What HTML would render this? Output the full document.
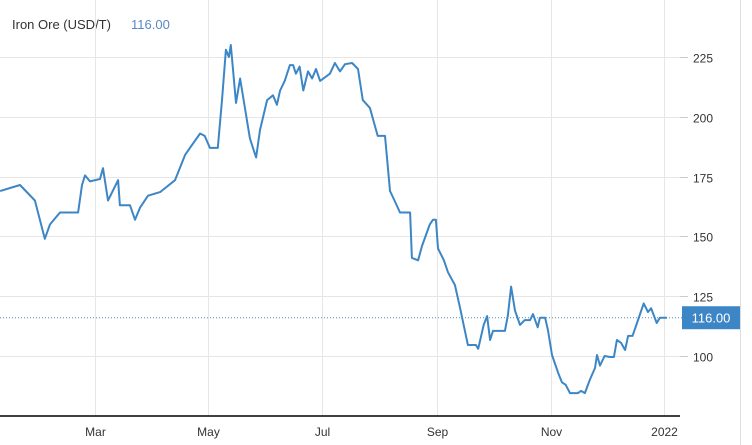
<!DOCTYPE html>
<html><head><meta charset="utf-8"><style>
body{margin:0;background:#fff;font-family:"Liberation Sans",sans-serif}
svg{display:block}
</style></head><body>
<svg id="chart" width="752" height="445" xmlns="http://www.w3.org/2000/svg">
<text x="12" y="29" font-size="13" fill="#333">Iron Ore (USD/T)</text>
<text x="131" y="29" font-size="13" fill="#5b87c5">116.00</text>
<line x1="740.5" y1="0" x2="740.5" y2="445" stroke="#ddd"/>
<g id="grid"></g><g id="series"></g><g id="axes"></g>
</svg>
<script>
const days=[8,18.7,26.7,32,34.8,40.2,49.9,52,53.6,56.3,61.7,63.3,66,71.4,72.4,77.8,80.5,83.2,87.5,94,102,107.4,110,115.5,118,120.8,125,127.3,129.4,131,132,134.8,137,142.3,145.6,147.7,151.5,154.7,156.8,158.5,161,163.8,165.5,167,169,171,173.5,175.7,177.8,180,185.3,188,190.7,193.4,197.2,200.4,203,206.8,211,214.9,217.6,220,223,228.4,229.4,232.7,234.8,239,240.7,242.3,243.4,246.6,248.8,252.5,255,259.5,263.8,265,268,269.8,271.4,273,279.4,281,282.7,284.8,287.5,290,292.9,294.5,297,298.2,301,302.5,304.7,308,310,312,314.4,318.7,320.3,322.4,325,327.8,328.9,330.5,333,335.9,338,339.6,341.8,344,345.6,348,350.4,354,356.3,358,361,362.7,366.5];
const prices=[169,171.5,165,149,155,160,160,171.5,175.5,173,174,178.5,165,173.5,163,163,157,162,167,168.5,173.5,184,187,193,192,187,187,207,228,225,230,205.8,216,191,183,194.5,207,209,205,211,215,221.6,221.6,218,221,211,219,216,220,215,218,222.5,219,222,222.5,220,207,203.7,192,192,169,165,160,160,141,140,146,155,157,157,145,140,135,129.7,121,104.6,104.6,103,113,116.7,106.7,110.5,110.5,117,129,119,113,115,115,117.5,112,116,116,110.9,100.4,93,89,88,84.5,84.5,85.4,84.5,90,95,100.4,96,100,99.6,99.6,106.7,105.5,102.5,108.4,108.4,113.8,122,118.4,120,113.8,116,116];
const yTicks=[100,125,150,175,200,225];
const xTickDays=[59,120,181,243,304,365];
const xTickLabels=["Mar","May","Jul","Sep","Nov","2022"];
const lastValue=116;
const NS="http://www.w3.org/2000/svg";
const xs=d=>95+(d-59)*1.86;
const ys=v=>356-(v-100)*2.392;
function mk(t,a,p){const e=document.createElementNS(NS,t);for(const k in a)e.setAttribute(k,a[k]);p.appendChild(e);return e;}
const g=document.getElementById('grid'),s=document.getElementById('series'),ax=document.getElementById('axes');
yTicks.forEach(v=>{const y=Math.round(ys(v))+0.5;
const l=mk('line',{x1:0,x2:680,y1:y,y2:y,stroke:'#e6e6e6'},g);


const tk=mk('line',{x1:680,x2:688,y1:y,y2:y,stroke:'#ccc'},ax);


const t=mk('text',{x:693,y:y+5,'font-size':12,fill:'#333'},ax);t.textContent=v;

});
xTickDays.forEach((d,i)=>{const x=Math.round(xs(d))+0.5;
const l=mk('line',{x1:x,x2:x,y1:0,y2:416,stroke:'#e6e6e6'},g);


const t=mk('text',{x:x,y:436,'font-size':12,fill:'#333','text-anchor':'middle'},ax);t.textContent=xTickLabels[i];

});
const base=mk('line',{x1:0,x2:680,y1:416,y2:416,stroke:'#000','stroke-width':1.5},ax);


const ly=ys(lastValue);
const dl=mk('line',{x1:0,x2:682,y1:ly,y2:ly,stroke:'#5b87c5','stroke-dasharray':'1,2'},g);


const p=mk('polyline',{points:days.map((d,i)=>xs(d).toFixed(1)+','+ys(prices[i]).toFixed(1)).join(' '),fill:'none',stroke:'#3d86c6','stroke-width':2,'stroke-linejoin':'round'},s);


const r=mk('rect',{x:682,y:ly-11.5,width:58,height:23,fill:'#3d86c6'},ax);


const bt=mk('text',{x:711,y:ly+5,'font-size':13,fill:'#fff','text-anchor':'middle'},ax);bt.textContent=lastValue.toFixed(2);


</script>
</body></html>
